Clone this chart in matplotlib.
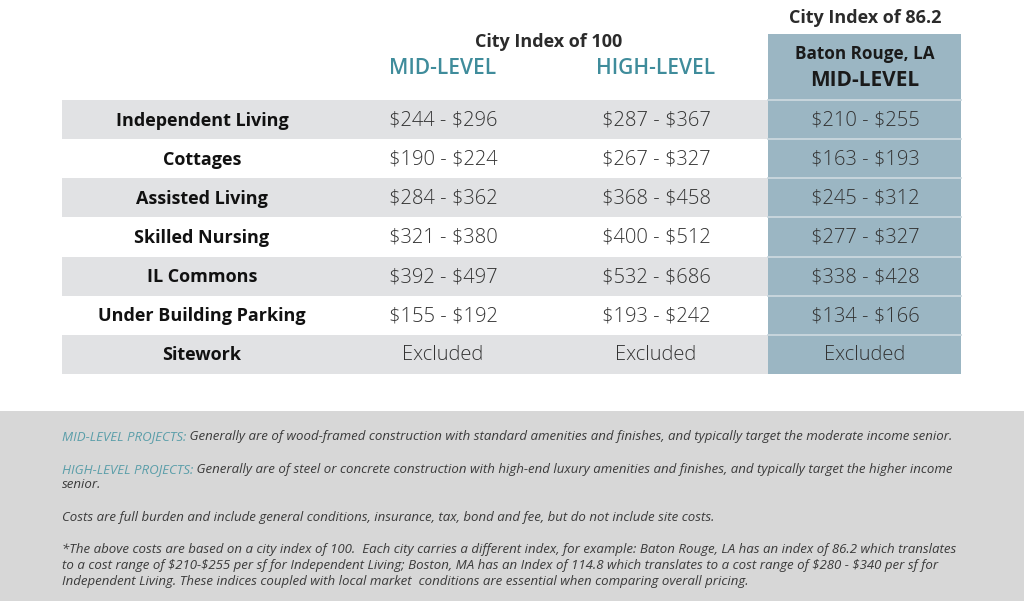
import matplotlib
matplotlib.use('Agg')
from matplotlib import pyplot as plt
from matplotlib.patches import Rectangle

plt.rcParams['font.family'] = ['Open Sans', 'DejaVu Sans']
plt.rcParams['text.parse_math'] = False

# table data
row_labels = ['Independent Living', 'Cottages', 'Assisted Living', 'Skilled Nursing',
              'IL Commons', 'Under Building Parking', 'Sitework']
mid_level = ['$244 - $296', '$190 - $224', '$284 - $362', '$321 - $380',
             '$392 - $497', '$155 - $192', 'Excluded']
high_level = ['$287 - $367', '$267 - $327', '$368 - $458', '$400 - $512',
              '$532 - $686', '$193 - $242', 'Excluded']
baton_rouge = ['$210 - $255', '$163 - $193', '$245 - $312', '$277 - $327',
               '$338 - $428', '$134 - $166', 'Excluded']

# footnote lines: (teal lead-in, rest of line)
note_lines = [
    ('MID-LEVEL PROJECTS:', ' Generally are of wood-framed construction with standard amenities and finishes, and typically target the moderate income senior.'),
    None,
    ('HIGH-LEVEL PROJECTS:', ' Generally are of steel or concrete construction with high-end luxury amenities and finishes, and typically target the higher income'),
    ('', 'senior.'),
    None,
    ('', 'Costs are full burden and include general conditions, insurance, tax, bond and fee, but do not include site costs.'),
    None,
    ('', '*The above costs are based on a city index of 100.  Each city carries a different index, for example: Baton Rouge, LA has an index of 86.2 which translates'),
    ('', 'to a cost range of $210-$255 per sf for Independent Living; Boston, MA has an Index of 114.8 which translates to a cost range of $280 - $340 per sf for'),
    ('', 'Independent Living. These indices coupled with local market  conditions are essential when comparing overall pricing.'),
]

teal = '#3f8c9b'
blue = '#9bb6c3'
gray_row = '#e1e2e4'
text_col = '#2b2b2b'

fig = plt.figure(figsize=(10.24, 6.01), dpi=100)
ax = fig.add_axes([0, 0, 1, 1])
ax.set_xlim(0, 1024)
ax.set_ylim(601, 0)
ax.axis('off')

top = 100
row_h = 39.14
left, right = 62, 961
blue_left = 768
col_x = [202, 443, 656, 865]

# striped rows
for i in range(len(row_labels)):
    y0 = top + i * row_h
    if i % 2 == 0:
        ax.add_patch(Rectangle((left, y0), blue_left - left, row_h, color=gray_row, lw=0))

# highlighted column
ax.add_patch(Rectangle((blue_left, 34), right - blue_left, top + len(row_labels) * row_h - 34,
                       color=blue, lw=0))
for i in range(len(row_labels)):
    y0 = top + i * row_h
    ax.plot([blue_left, right], [y0, y0], color='#cbd8de', lw=1.3)

# headers
ax.text(549, 42, 'City Index of 100', ha='center', va='center', fontsize=13,
        fontweight='bold', color=text_col)
ax.text(col_x[1], 69, 'MID-LEVEL', ha='center', va='center', fontsize=15,
        fontweight='semibold', color=teal)
ax.text(col_x[2], 69, 'HIGH-LEVEL', ha='center', va='center', fontsize=15,
        fontweight='semibold', color=teal)
ax.text(col_x[3], 18, 'City Index of 86.2', ha='center', va='center', fontsize=13,
        fontweight='bold', color=text_col)
ax.text(col_x[3], 54, 'Baton Rouge, LA', ha='center', va='center', fontsize=12.3,
        fontweight='bold', color='#1a1a1a')
ax.text(col_x[3], 80, 'MID-LEVEL', ha='center', va='center', fontsize=15,
        fontweight='bold', color='#1a1a1a')

# cells
for i, lab in enumerate(row_labels):
    yc = top + (i + 0.5) * row_h + 1
    ax.text(col_x[0], yc, lab, ha='center', va='center', fontsize=13,
            fontweight='bold', color='#111111')
    for x, vals in zip(col_x[1:], [mid_level, high_level, baton_rouge]):
        ax.text(x, yc, vals[i], ha='center', va='center', fontsize=14.5,
                fontweight='light', color='#333333')

# footnote box
ax.add_patch(Rectangle((0, 411), 1024, 190, color='#d7d7d7', lw=0))
y = 440
for line in note_lines:
    if line is None:
        y += 17
        continue
    head, body = line
    if head:
        t = ax.text(62, y, head, ha='left', va='baseline', fontsize=9.5,
                    style='italic', color='#5a9ea9')
        ax.annotate(body, xy=(1, 0), xycoords=t, ha='left', va='bottom',
                    fontsize=9.5, style='italic', color='#3a3a3a')
    else:
        ax.text(62, y, body, ha='left', va='baseline', fontsize=9.5,
                style='italic', color='#3a3a3a')
    y += 15.6

fig.savefig('out.png', dpi=100)
